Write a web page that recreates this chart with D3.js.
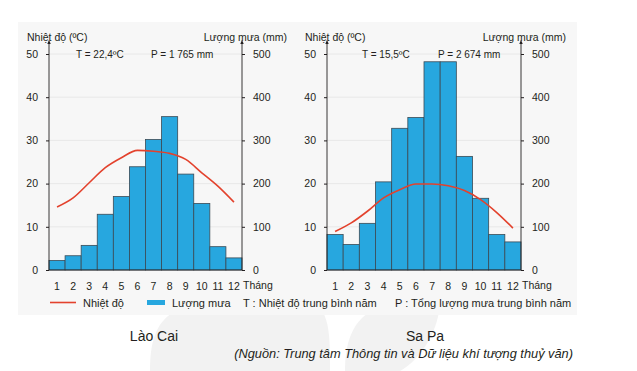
<!DOCTYPE html>
<meta charset="utf-8">
<script src="https://d3js.org/d3.v7.min.js"></script>
<style>
  body { margin: 0; background: #fff; }
  text { font-family: "Liberation Sans", Arial, sans-serif; fill: #231f20; }
</style>
<div id="my_dataviz"></div>
<script>

// data
var months = [1, 2, 3, 4, 5, 6, 7, 8, 9, 10, 11, 12];
var laoCaiTemp = [14.6, 16.7, 20.2, 23.7, 26.0, 27.7, 27.5, 27.0, 25.6, 22.5, 19.4, 15.7];
var laoCaiRain = [22, 33, 57, 129, 170, 239, 302, 355, 222, 154, 54, 28];
var sapaTemp = [8.9, 10.9, 13.6, 16.7, 18.6, 19.9, 19.9, 19.5, 18.4, 16.3, 13.3, 9.7];
var sapaRain = [82, 59, 108, 204, 328, 353, 482, 482, 263, 166, 82, 65];
var tempTicks = [0, 10, 20, 30, 40, 50];
var rainTicks = [0, 100, 200, 300, 400, 500];

var width = 637, height = 371;

var svg = d3.select("#my_dataviz")
  .append("svg")
    .attr("width", width)
    .attr("height", height);

// arrow head for the axes
svg.append("defs").append("marker")
    .attr("id", "arrow")
    .attr("viewBox", "0 0 10 10")
    .attr("refX", 5).attr("refY", 5)
    .attr("markerWidth", 5).attr("markerHeight", 5)
    .attr("orient", "auto")
  .append("path")
    .attr("d", "M0,1 L10,5 L0,9 Z")
    .attr("fill", "#231f20");

// faint watermark shapes behind everything
svg.append("path")
    .attr("d", "M150,371 C150,330 160,300 230,300 L300,300 C330,300 330,330 330,371 Z")
    .attr("fill", "#f2f2f2");
svg.append("path")
    .attr("d", "M345,371 C345,330 360,300 420,300 L440,300 C440,330 420,360 400,371 Z")
    .attr("fill", "#f2f2f2");

// light panel
svg.append("rect")
    .attr("x", 18).attr("y", 22)
    .attr("width", 559).attr("height", 293)
    .attr("fill", "#f7f7f7");

function drawChart(x0, x1, temp, rain, tLabel, tX, pLabel, pX, station, stX) {
  var x = d3.scaleBand()
    .domain(months)
    .range([x0, x1])
    .padding(0);

  var yT = d3.scaleLinear().domain([0, 50]).range([270, 54]);
  var yR = d3.scaleLinear().domain([0, 500]).range([270, 54]);

  var g = svg.append("g");

  // grid lines
  g.selectAll(".grid")
    .data(tempTicks.slice(1))
    .enter()
    .append("line")
      .attr("x1", x0).attr("x2", x1)
      .attr("y1", function(d) { return yT(d); })
      .attr("y2", function(d) { return yT(d); })
      .attr("stroke", "#e8e8e8")
      .attr("stroke-width", 1);

  // bars
  g.selectAll(".bar")
    .data(rain)
    .enter()
    .append("rect")
      .attr("x", function(d, i) { return x(months[i]); })
      .attr("width", x.bandwidth())
      .attr("y", function(d) { return yR(d); })
      .attr("height", function(d) { return yR(0) - yR(d); })
      .attr("fill", "#27a7df")
      .attr("stroke", "#3a4a55")
      .attr("stroke-width", 0.8);

  // temperature line
  g.append("path")
    .attr("fill", "none")
    .attr("stroke", "#e3422d")
    .attr("stroke-width", 1.6)
    .attr("d", d3.line()
      .x(function(d, i) { return x(months[i]) + x.bandwidth() / 2; })
      .y(function(d) { return yT(d); })
      .curve(d3.curveMonotoneX)(temp));

  // left axis
  var la = g.append("g")
    .attr("transform", "translate(" + x0 + ",0)")
    .call(d3.axisLeft(yT).tickValues(tempTicks).tickSize(3).tickPadding(8));
  la.select(".domain").remove();
  la.selectAll("line").attr("stroke", "#231f20");
  la.selectAll("text").style("font-size", "10.5px").attr("fill", "#231f20");

  // right axis
  var ra = g.append("g")
    .attr("transform", "translate(" + x1 + ",0)")
    .call(d3.axisRight(yR).tickValues(rainTicks).tickSize(3).tickPadding(8));
  ra.select(".domain").remove();
  ra.selectAll("line").attr("stroke", "#231f20");
  ra.selectAll("text").style("font-size", "10.5px").attr("fill", "#231f20");

  // axis lines with arrows
  [x0, x1].forEach(function(ax) {
    g.append("line")
      .attr("x1", ax).attr("x2", ax)
      .attr("y1", 270).attr("y2", 42)
      .attr("stroke", "#231f20")
      .attr("stroke-width", 0.9)
      .attr("marker-end", "url(#arrow)");
  });

  // bottom line
  g.append("line")
    .attr("x1", x0).attr("x2", x1)
    .attr("y1", 270).attr("y2", 270)
    .attr("stroke", "#231f20")
    .attr("stroke-width", 0.8);

  // month labels
  var xa = g.append("g")
    .attr("transform", "translate(0,270)")
    .call(d3.axisBottom(x).tickSize(0).tickPadding(13));
  xa.select(".domain").remove();
  xa.selectAll("text").style("font-size", "10.5px").attr("fill", "#231f20");

  g.append("text")
    .attr("x", x1 + 1).attr("y", 289)
    .style("font-size", "10.5px")
    .text("Tháng");

  // titles
  g.append("text")
    .attr("x", x0 - 22).attr("y", 41)
    .style("font-size", "10.5px")
    .text("Nhiệt độ (ºC)");
  g.append("text")
    .attr("x", x1 + 45).attr("y", 41)
    .attr("text-anchor", "end")
    .style("font-size", "10.5px")
    .text("Lượng mưa (mm)");

  g.append("text")
    .attr("x", tX).attr("y", 58)
    .style("font-size", "10px")
    .text(tLabel);
  g.append("text")
    .attr("x", pX).attr("y", 58)
    .style("font-size", "10px")
    .text(pLabel);

  g.append("text")
    .attr("x", stX).attr("y", 341)
    .attr("text-anchor", "middle")
    .style("font-size", "14px")
    .attr("fill", "#333")
    .text(station);
}

drawChart(49, 242, laoCaiTemp, laoCaiRain, "T = 22,4ºC", 76, "P = 1 765 mm", 151, "Lào Cai", 154);
drawChart(327, 521, sapaTemp, sapaRain, "T = 15,5ºC", 362, "P = 2 674 mm", 438, "Sa Pa", 425);

// legend
var lg = svg.append("g");
lg.append("line")
  .attr("x1", 50).attr("x2", 76)
  .attr("y1", 302.5).attr("y2", 302.5)
  .attr("stroke", "#e3422d")
  .attr("stroke-width", 1.6);
lg.append("text").attr("x", 83).attr("y", 306.5).style("font-size", "11px").text("Nhiệt độ");
lg.append("rect")
  .attr("x", 147).attr("y", 300).attr("width", 18).attr("height", 5)
  .attr("fill", "#27a7df");
lg.append("text").attr("x", 172).attr("y", 306.5).style("font-size", "11px").text("Lượng mưa");
lg.append("text").attr("x", 243).attr("y", 306.5).style("font-size", "11px").text("T : Nhiệt độ trung bình năm");
lg.append("text").attr("x", 395).attr("y", 306.5).style("font-size", "11px").text("P : Tổng lượng mưa trung bình năm");

// source
svg.append("text")
  .attr("x", 573).attr("y", 358)
  .attr("text-anchor", "end")
  .style("font-size", "12.8px")
  .style("font-style", "italic")
  .attr("fill", "#333")
  .text("(Nguồn: Trung tâm Thông tin và Dữ liệu khí tượng thuỷ văn)");

</script>
